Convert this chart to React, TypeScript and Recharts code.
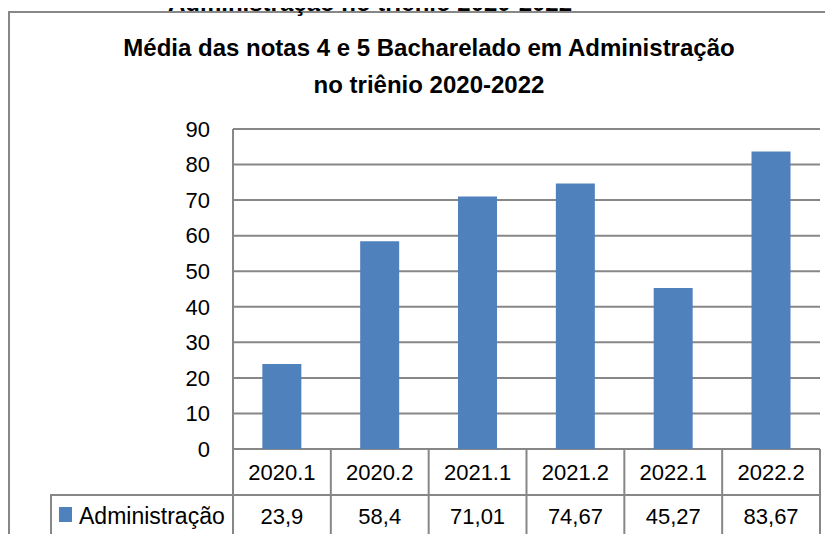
import { Bar, BarChart, CartesianGrid, XAxis, YAxis } from "recharts";

const periods = ["2020.1", "2020.2", "2021.1", "2021.2", "2022.1", "2022.2"];
const administracao = [23.9, 58.4, 71.01, 74.67, 45.27, 83.67];
const yTicks = [0, 10, 20, 30, 40, 50, 60, 70, 80, 90];
const seriesName = "Administração";

const data = periods.map((p, i) => ({ period: p, value: administracao[i] }));

// the chart is laid out in page pixels; the root sits inside the 8px body margin
const OFF = 8;
const W = 833;
const H = 542;
const PLOT_LEFT = 233;
const PLOT_RIGHT = 13;
const COL_W = (W - PLOT_LEFT - PLOT_RIGHT) / periods.length;
const ROW1 = 46;
const ROW2 = 42;
const LINE = "#878787";
const BLUE = "#4F81BD";
const FONT = "'Liberation Sans', Arial, sans-serif";

const fmt = (v: number) => String(v).replace(".", ",");

function TableTick(props: any) {
  const { x, y, payload, index } = props;
  const left = x - COL_W / 2;
  const right = x + COL_W / 2;
  const v = administracao[index];
  return (
    <g>
      {index === 0 && (
        <g>
          <line x1={left} x2={left} y1={y} y2={y + ROW1 + ROW2} stroke={LINE} strokeWidth={2} />
          <rect x={51} y={y + ROW1} width={left - 51} height={ROW2} fill="none" stroke={LINE} strokeWidth={2} />
          <rect x={59} y={y + ROW1 + 12} width={13} height={15} fill={BLUE} />
          <text x={79} y={y + ROW1 + 29} fontSize={23} fill="#000" fontFamily={FONT}>
            {seriesName}
          </text>
        </g>
      )}
      <line x1={right} x2={right} y1={y} y2={y + ROW1 + ROW2} stroke={LINE} strokeWidth={2} />
      <line x1={left} x2={right} y1={y + ROW1} y2={y + ROW1} stroke={LINE} strokeWidth={2} />
      <line x1={left} x2={right} y1={y + ROW1 + ROW2} y2={y + ROW1 + ROW2} stroke={LINE} strokeWidth={2} />
      <text x={x} y={y + 31} textAnchor="middle" fontSize={22} fill="#000" fontFamily={FONT}>
        {payload.value}
      </text>
      <text x={x} y={y + ROW1 + 29} textAnchor="middle" fontSize={22} fill="#000" fontFamily={FONT}>
        {fmt(v)}
      </text>
    </g>
  );
}

export default function App() {
  return (
    <div
      style={{
        position: "relative",
        width: W - 2 * OFF,
        height: H - 2 * OFF,
        fontFamily: FONT,
      }}
    >
      <div
        style={{
          position: "absolute",
          left: -OFF,
          top: -OFF,
          width: W,
          height: H,
          overflow: "hidden",
          background: "#fff",
        }}
      >
        <div
          style={{
            position: "absolute",
            left: 8,
            top: 11,
            width: 900,
            height: 700,
            border: `2px solid ${LINE}`,
          }}
        />
        <div
          style={{
            position: "absolute",
            left: 0,
            width: 740,
            top: -12,
            textAlign: "center",
            fontWeight: "bold",
            fontSize: 24,
            lineHeight: "30px",
            whiteSpace: "nowrap",
          }}
        >
          Administração no triênio 2020-2022
        </div>
        <div
          style={{
            position: "absolute",
            left: 0,
            width: 858,
            top: 29,
            textAlign: "center",
            fontWeight: "bold",
            fontSize: 24,
            lineHeight: "37px",
            whiteSpace: "nowrap",
          }}
        >
          Média das notas 4 e 5 Bacharelado em Administração
          <br />
          no triênio 2020-2022
        </div>
        <div style={{ position: "absolute", left: 0, top: 0 }}>
          <BarChart
            width={W}
            height={H}
            data={data}
            margin={{ top: 129, right: PLOT_RIGHT, left: 0, bottom: 5 }}
            barCategoryGap="30%"
          >
            <CartesianGrid vertical={false} stroke={LINE} strokeWidth={2} />
            <YAxis
              width={PLOT_LEFT}
              domain={[0, 90]}
              ticks={yTicks}
              interval={0}
              tickSize={0}
              tickMargin={23}
              axisLine={{ stroke: LINE, strokeWidth: 2 }}
              tickLine={false}
              tick={{ fontSize: 22, fill: "#000", fontFamily: FONT }}
            />
            <XAxis
              dataKey="period"
              height={ROW1 + ROW2}
              interval={0}
              tickSize={0}
              tickMargin={0}
              axisLine={false}
              tickLine={false}
              tick={<TableTick />}
            />
            <Bar dataKey="value" name={seriesName} fill={BLUE} isAnimationActive={false} />
          </BarChart>
        </div>
      </div>
    </div>
  );
}
